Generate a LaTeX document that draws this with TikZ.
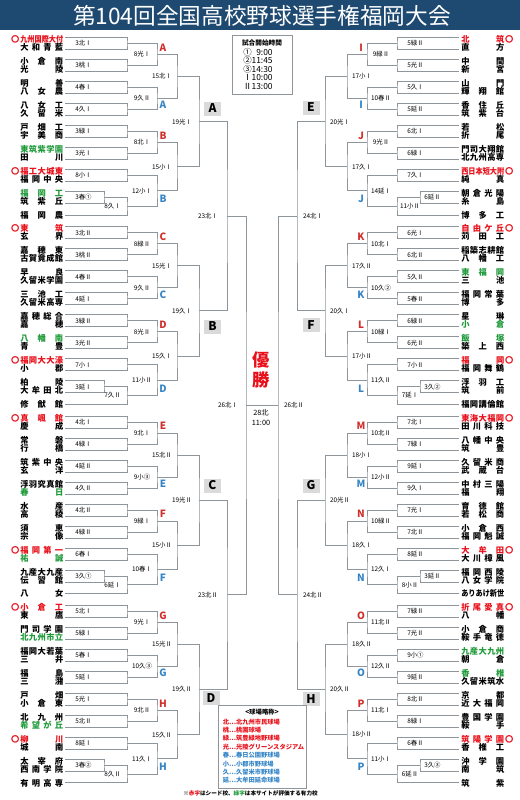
\documentclass[tikz,border=0pt]{standalone}
\usepackage{fontspec}
\setmainfont{Noto Sans CJK JP}
\usetikzlibrary{calc}
\definecolor{titlebg}{HTML}{1E4A72}
\definecolor{seedred}{HTML}{E8101A}
\definecolor{strong}{HTML}{1F9A3A}
\definecolor{letred}{HTML}{D0302B}
\definecolor{letblue}{HTML}{3585C6}
\definecolor{linegray}{HTML}{8E959B}
\definecolor{boxgray}{HTML}{DADADA}

\newdimen\namewd
\namewd=32.25pt

\ExplSyntaxOn
\box_new:N \l_nm_box
\NewDocumentCommand \nm { m }
  {
    \hbox_set:Nn \l_nm_box {#1}
    \dim_compare:nNnTF { \box_wd:N \l_nm_box } > { \namewd }
      {
        \box_scale:Nnn \l_nm_box
          { \fp_eval:n { \dim_to_fp:n { \namewd } / \dim_to_fp:n { \box_wd:N \l_nm_box } } } { 1 }
        \box_use:N \l_nm_box
      }
      { \hbox_to_wd:nn { \namewd } { \tl_map_inline:nn {#1} { ##1 \hfill } \unskip } }
  }
\ExplSyntaxOff

\newcommand\tn[1]{\nm{#1}}
\newcommand\tg[1]{\textcolor{strong}{\nm{#1}}}
\newcommand\seedl[1]{\textcolor{seedred}{\llap{〇\kern0.6pt}\nm{#1}}}
\newcommand\seedr[1]{\textcolor{seedred}{\nm{#1}\rlap{\kern0.6pt〇}}}

\tikzset{
  team/.style={inner sep=0pt, anchor=west, font=\fontsize{6.2}{6.2}\selectfont\bfseries, text height=5.46pt, text depth=0.74pt},
  bline/.style={draw=linegray, line width=0.7pt},
  mlabel/.style={inner sep=0pt, font=\fontsize{4.8}{4.8}\selectfont},
  redlet/.style={inner sep=0pt, text=letred, font=\fontsize{7.5}{7.5}\selectfont\bfseries},
  bluelet/.style={redlet, text=letblue},
  blockbox/.style={fill=boxgray, minimum width=12.75pt, minimum height=10.5pt, inner sep=0pt, font=\fontsize{9}{9}\selectfont\bfseries},
  infobox/.style={draw=linegray, line width=0.5pt},
  title/.style={text=white, inner sep=0pt, font=\fontsize{17}{17}\selectfont}
}

% first round, left side
\newcommand\lpair[5]{%
  \node[team] (#1u) at (20,#2-4) {#3};
  \node[team] (#1d) at (20,#2+4) {#4};
  \coordinate (#1ut) at (65,#2-6);
  \coordinate (#1dt) at (65,#2+6);
  \coordinate (#1) at (127,#2);
  \draw[bline] (#1ut) -| (#1) |- (#1dt);
  \node[mlabel, anchor=west] (#1lb) at (75,#2) {#5};
}
\newcommand\lshort[5]{%
  \node[team] (#1u) at (20,#2-4) {#3};
  \node[team] (#1d) at (20,#2+4) {#4};
  \coordinate (#1ut) at (65,#2-6);
  \coordinate (#1dt) at (65,#2+6);
  \coordinate (#1) at (104,#2);
  \draw[bline] (#1ut) -| (#1) |- (#1dt);
  \node[mlabel, anchor=west] (#1lb) at (75,#2) {#5};
}
\newcommand\lone[3]{%
  \node[team] (#1u) at (20,#2) {#3};
  \coordinate (#1) at (65,#2);
}
% first round, right side
\newcommand\rpair[5]{%
  \node[team] (#1u) at (461,#2-4) {#3};
  \node[team] (#1d) at (461,#2+4) {#4};
  \coordinate (#1ut) at (459,#2-6);
  \coordinate (#1dt) at (459,#2+6);
  \coordinate (#1) at (397,#2);
  \draw[bline] (#1ut) -| (#1) |- (#1dt);
  \node[mlabel, anchor=west] (#1lb) at (407,#2) {#5};
}
\newcommand\rshort[5]{%
  \node[team] (#1u) at (461,#2-4) {#3};
  \node[team] (#1d) at (461,#2+4) {#4};
  \coordinate (#1ut) at (459,#2-6);
  \coordinate (#1dt) at (459,#2+6);
  \coordinate (#1) at (420,#2);
  \draw[bline] (#1ut) -| (#1) |- (#1dt);
  \node[mlabel, anchor=west] (#1lb) at (424,#2) {#5};
}
\newcommand\rone[3]{%
  \node[team] (#1u) at (461,#2) {#3};
  \coordinate (#1) at (459,#2);
}
% later rounds: new match, upper, lower, column, label column, label
\newcommand\jn[6]{%
  \path ($(#2)!.5!(#3)$) coordinate (#1m);
  \coordinate (#1) at (#4 |- #1m);
  \draw[bline] (#2) -| (#1) |- (#3);
  \node[mlabel] (#1lb) at (#5 |- #1m) {#6};
}

\begin{document}
\begin{tikzpicture}[x=0.75pt, y=-0.75pt]
  \useasboundingbox (0,0) rectangle (520,800);
  \fill[titlebg] (0,0) rectangle (520,30);
  \node[title] (ttl) at (262,15.5) {第104回全国高校野球選手権福岡大会};

  % columns
  \coordinate (cl1) at (127,0); \coordinate (cl2) at (157,0); \coordinate (cl3) at (177,0);
  \coordinate (cl4) at (199,0); \coordinate (cl5) at (227,0); \coordinate (cl6) at (246,0);
  \coordinate (cr1) at (397,0); \coordinate (cr2) at (367,0); \coordinate (cr3) at (347,0);
  \coordinate (cr4) at (325,0); \coordinate (cr5) at (297,0); \coordinate (cr6) at (278,0);
  \coordinate (lb1) at (112.5,0); \coordinate (lb2) at (142,0); \coordinate (lb3) at (162,0);
  \coordinate (lb4) at (182,0); \coordinate (lb5) at (208,0); \coordinate (lb6) at (228,0);
  \coordinate (rb1) at (410,0); \coordinate (rb2) at (381,0); \coordinate (rb3) at (362,0);
  \coordinate (rb4) at (340,0); \coordinate (rb5) at (313,0); \coordinate (rb6) at (294,0);

  % A / B
  \lpair{a1}{43.5}{\seedl{九州国際大付}}{\tn{大和青藍}}{3北Ⅰ}
  \lpair{a2}{65.5}{\tn{小倉南}}{\tn{光陵}}{3桃Ⅰ}
  \lpair{a3}{87.5}{\tn{明善}}{\tn{八女農}}{4春Ⅰ}
  \lpair{a4}{109.5}{\tn{八女工}}{\tn{久留米}}{4久Ⅰ}
  \lpair{a5}{131.5}{\tn{戸畑工}}{\tn{宇美商}}{3緑Ⅰ}
  \lpair{a6}{153.5}{\tg{東筑紫学園}}{\tn{田川}}{3光Ⅰ}
  \lpair{a7}{175.5}{\seedl{福工大城東}}{\tn{福岡中央}}{8小Ⅰ}
  \lshort{a8}{197.5}{\tg{福岡工}}{\tn{筑紫丘}}{3春①}
  \lone{a9}{215}{\tn{福岡農}}
  \jn{a89}{a8}{a9}{cl1}{lb1}{8久Ⅰ}
  \jn{rA}{a1}{a2}{cl2}{lb2}{8光Ⅰ}
  \jn{bA}{a3}{a4}{cl2}{lb2}{9久Ⅱ}
  \jn{rB}{a5}{a6}{cl2}{lb2}{8北Ⅰ}
  \jn{bB}{a7}{a89}{cl2}{lb2}{12小Ⅰ}
  \jn{qA}{rA}{bA}{cl3}{lb3}{15北Ⅰ}
  \jn{qB}{rB}{bB}{cl3}{lb3}{15小Ⅰ}
  \jn{sA}{qA}{qB}{cl4}{lb4}{19光Ⅰ}

  % C / D
  \lpair{c1}{232.8}{\seedl{東筑}}{\tn{玄界}}{3北Ⅱ}
  \lpair{c2}{254.8}{\tn{嘉穂東}}{\tn{古賀竟成館}}{3桃Ⅱ}
  \lpair{c3}{276.8}{\tn{早良}}{\tn{久留米学園}}{4春Ⅱ}
  \lpair{c4}{298.8}{\tn{三池工}}{\tn{久留米高専}}{4延Ⅰ}
  \lpair{c5}{320.8}{\tn{嘉穂総合}}{\tn{嘉穂}}{3緑Ⅱ}
  \lpair{c6}{342.8}{\tg{八幡南}}{\tn{青豊}}{3光Ⅱ}
  \lpair{c7}{364.8}{\seedl{福岡大大濠}}{\tn{小郡}}{7小Ⅰ}
  \lshort{c8}{386.8}{\tn{柏陵}}{\tn{大牟田北}}{3延Ⅰ}
  \lone{c9}{404.3}{\tn{修猷館}}
  \jn{c89}{c8}{c9}{cl1}{lb1}{7久Ⅱ}
  \jn{rC}{c1}{c2}{cl2}{lb2}{8緑Ⅱ}
  \jn{bC}{c3}{c4}{cl2}{lb2}{9久Ⅱ}
  \jn{rD}{c5}{c6}{cl2}{lb2}{8光Ⅱ}
  \jn{bD}{c7}{c89}{cl2}{lb2}{11小Ⅱ}
  \jn{qC}{rC}{bC}{cl3}{lb3}{15光Ⅰ}
  \jn{qD}{rD}{bD}{cl3}{lb3}{15久Ⅰ}
  \jn{sC}{qC}{qD}{cl4}{lb4}{19久Ⅰ}

  % E / F
  \lpair{e1}{422.1}{\seedl{真颯館}}{\tn{慶成}}{4北Ⅰ}
  \lpair{e2}{444.1}{\tn{常磐}}{\tn{行橋}}{4緑Ⅰ}
  \lpair{e3}{466.1}{\tn{筑紫中央}}{\tn{玄洋}}{4延Ⅱ}
  \lpair{e4}{488.1}{\tn{浮羽究真館}}{\tg{春日}}{4久Ⅱ}
  \lpair{e5}{510.1}{\tn{水産}}{\tn{高稜}}{4北Ⅱ}
  \lpair{e6}{532.1}{\tn{須恵}}{\tn{宗像}}{4緑Ⅱ}
  \lpair{e7}{554.1}{\seedl{福岡第一}}{\tg{祐誠}}{6春Ⅰ}
  \lshort{e8}{576.1}{\tn{九産大九産}}{\tn{伝習館}}{3久①}
  \lone{e9}{593.6}{\tn{八女}}
  \jn{e89}{e8}{e9}{cl1}{lb1}{6延Ⅰ}
  \jn{rE}{e1}{e2}{cl2}{lb2}{9北Ⅰ}
  \jn{bE}{e3}{e4}{cl2}{lb2}{9小③}
  \jn{rF}{e5}{e6}{cl2}{lb2}{9緑Ⅰ}
  \jn{bF}{e7}{e89}{cl2}{lb2}{10春Ⅰ}
  \jn{qE}{rE}{bE}{cl3}{lb3}{15北Ⅱ}
  \jn{qF}{rF}{bF}{cl3}{lb3}{15小Ⅱ}
  \jn{sE}{qE}{qF}{cl4}{lb4}{19光Ⅱ}

  % G / H
  \lpair{g1}{611.4}{\seedl{小倉工}}{\tn{東鷹}}{5北Ⅰ}
  \lpair{g2}{633.4}{\tn{門司学園}}{\tg{北九州市立}}{5緑Ⅰ}
  \lpair{g3}{655.4}{\tn{福岡大若葉}}{\tn{三井}}{5春Ⅰ}
  \lpair{g4}{677.4}{\tn{福島}}{\tn{三潴}}{5延Ⅰ}
  \lpair{g5}{699.4}{\tn{戸畑}}{\tn{小倉東}}{5光Ⅰ}
  \lpair{g6}{721.4}{\tn{北九州}}{\tg{希望が丘}}{5北Ⅱ}
  \lpair{g7}{743.4}{\seedl{柳川}}{\tn{城南}}{8延Ⅰ}
  \lshort{g8}{765.4}{\tn{太宰府}}{\tn{西南学院}}{3春②}
  \lone{g9}{782.9}{\tn{有明高専}}
  \jn{g89}{g8}{g9}{cl1}{lb1}{8久Ⅱ}
  \jn{rG}{g1}{g2}{cl2}{lb2}{9光Ⅰ}
  \jn{bG}{g3}{g4}{cl2}{lb2}{10久③}
  \jn{rH}{g5}{g6}{cl2}{lb2}{9北Ⅱ}
  \jn{bH}{g7}{g89}{cl2}{lb2}{11久Ⅰ}
  \jn{qG}{rG}{bG}{cl3}{lb3}{15光Ⅱ}
  \jn{qH}{rH}{bH}{cl3}{lb3}{15久Ⅱ}
  \jn{sG}{qG}{qH}{cl4}{lb4}{19久Ⅱ}

  % I / J
  \rpair{i1}{43.5}{\seedr{北筑}}{\tn{直方}}{5緑Ⅱ}
  \rpair{i2}{65.5}{\tn{中間}}{\tn{新宮}}{5光Ⅱ}
  \rpair{i3}{87.5}{\tn{山門}}{\tn{輝翔館}}{5久Ⅰ}
  \rpair{i4}{109.5}{\tn{香住丘}}{\tn{筑紫台}}{5延Ⅱ}
  \rpair{i5}{131.5}{\tn{若松}}{\tn{折尾}}{6北Ⅰ}
  \rpair{i6}{153.5}{\tn{門司大翔館}}{\tn{北九州高専}}{6緑Ⅰ}
  \rpair{i7}{175.5}{\seedr{西日本短大附}}{\tn{純真}}{7久Ⅰ}
  \rshort{i8}{197.5}{\tn{朝倉光陽}}{\tn{糸島}}{6延Ⅱ}
  \rone{i9}{215}{\tn{博多工}}
  \jn{i89}{i8}{i9}{cr1}{rb1}{11小Ⅱ}
  \jn{rI}{i1}{i2}{cr2}{rb2}{9緑Ⅱ}
  \jn{bI}{i3}{i4}{cr2}{rb2}{10春Ⅱ}
  \jn{rJ}{i5}{i6}{cr2}{rb2}{9光Ⅱ}
  \jn{bJ}{i7}{i89}{cr2}{rb2}{14延Ⅰ}
  \jn{qI}{rI}{bI}{cr3}{rb3}{17小Ⅰ}
  \jn{qJ}{rJ}{bJ}{cr3}{rb3}{17久Ⅰ}
  \jn{sI}{qI}{qJ}{cr4}{rb4}{20光Ⅰ}

  % K / L
  \rpair{k1}{232.8}{\seedr{自由ケ丘}}{\tn{苅田工}}{6光Ⅰ}
  \rpair{k2}{254.8}{\tn{稲築志耕館}}{\tn{八幡工}}{6北Ⅱ}
  \rpair{k3}{276.8}{\tg{東福岡}}{\tn{三池}}{5久Ⅱ}
  \rpair{k4}{298.8}{\tn{福岡常葉}}{\tn{博多}}{5春Ⅱ}
  \rpair{k5}{320.8}{\tn{星琳}}{\tg{小倉}}{6緑Ⅱ}
  \rpair{k6}{342.8}{\tg{飯塚}}{\tn{築上西}}{6光Ⅱ}
  \rpair{k7}{364.8}{\seedr{福岡}}{\tn{福岡舞鶴}}{7小Ⅱ}
  \rshort{k8}{386.8}{\tn{浮羽工}}{\tn{筑前}}{3久②}
  \rone{k9}{404.3}{\tn{福岡講倫館}}
  \jn{k89}{k8}{k9}{cr1}{rb1}{7延Ⅰ}
  \jn{rK}{k1}{k2}{cr2}{rb2}{10北Ⅰ}
  \jn{bK}{k3}{k4}{cr2}{rb2}{10久②}
  \jn{rL}{k5}{k6}{cr2}{rb2}{10緑Ⅰ}
  \jn{bL}{k7}{k89}{cr2}{rb2}{11久Ⅱ}
  \jn{qK}{rK}{bK}{cr3}{rb3}{17久Ⅱ}
  \jn{qL}{rL}{bL}{cr3}{rb3}{17小Ⅱ}
  \jn{sK}{qK}{qL}{cr4}{rb4}{20久Ⅰ}

  % M / N
  \rpair{m1}{422.1}{\seedr{東海大福岡}}{\tn{田川科技}}{7北Ⅰ}
  \rpair{m2}{444.1}{\tn{八幡中央}}{\tn{筑豊}}{7緑Ⅰ}
  \rpair{m3}{466.1}{\tn{久留米商}}{\tn{武蔵台}}{9延Ⅰ}
  \rpair{m4}{488.1}{\tn{中村三陽}}{\tn{福翔}}{9久Ⅰ}
  \rpair{m5}{510.1}{\tn{育徳館}}{\tn{若松商}}{7光Ⅰ}
  \rpair{m6}{532.1}{\tn{小倉西}}{\tn{福岡魁誠}}{7北Ⅱ}
  \rpair{m7}{554.1}{\seedr{大牟田}}{\tn{大川樟風}}{8延Ⅱ}
  \rshort{m8}{576.1}{\tn{福岡西陵}}{\tn{八女学院}}{3延Ⅱ}
  \rone{m9}{593.6}{\tn{ありあけ新世}}
  \jn{m89}{m8}{m9}{cr1}{rb1}{8小Ⅱ}
  \jn{rM}{m1}{m2}{cr2}{rb2}{10北Ⅱ}
  \jn{bM}{m3}{m4}{cr2}{rb2}{12小Ⅱ}
  \jn{rN}{m5}{m6}{cr2}{rb2}{10緑Ⅱ}
  \jn{bN}{m7}{m89}{cr2}{rb2}{12久Ⅰ}
  \jn{qM}{rM}{bM}{cr3}{rb3}{18小Ⅰ}
  \jn{qN}{rN}{bN}{cr3}{rb3}{18久Ⅰ}
  \jn{sM}{qM}{qN}{cr4}{rb4}{20光Ⅱ}

  % O / P
  \rpair{o1}{611.4}{\seedr{折尾愛真}}{\tn{八幡}}{7緑Ⅱ}
  \rpair{o2}{633.4}{\tn{小倉商}}{\tn{鞍手竜徳}}{7光Ⅱ}
  \rpair{o3}{655.4}{\tg{九産大九州}}{\tn{朝倉}}{9小①}
  \rpair{o4}{677.4}{\tg{香椎}}{\tn{久留米筑水}}{9延Ⅱ}
  \rpair{o5}{699.4}{\tn{京都}}{\tn{近大福岡}}{8北Ⅱ}
  \rpair{o6}{721.4}{\tn{豊国学園}}{\tn{鞍手}}{8緑Ⅰ}
  \rpair{o7}{743.4}{\seedr{筑陽学園}}{\tn{香椎工}}{6春Ⅱ}
  \rshort{o8}{765.4}{\tn{沖学園}}{\tn{南筑}}{3久③}
  \rone{o9}{782.9}{\tn{筑紫}}
  \jn{o89}{o8}{o9}{cr1}{rb1}{6延Ⅱ}
  \jn{rO}{o1}{o2}{cr2}{rb2}{11北Ⅱ}
  \jn{bO}{o3}{o4}{cr2}{rb2}{12久Ⅱ}
  \jn{rP}{o5}{o6}{cr2}{rb2}{11北Ⅰ}
  \jn{bP}{o7}{o89}{cr2}{rb2}{11小Ⅰ}
  \jn{qO}{rO}{bO}{cr3}{rb3}{18久Ⅱ}
  \jn{qP}{rP}{bP}{cr3}{rb3}{18小Ⅱ}
  \jn{sO}{qO}{qP}{cr4}{rb4}{20久Ⅱ}

  % semifinals and final
  \jn{tL1}{sA}{sC}{cl5}{lb5}{23北Ⅰ}
  \jn{tL2}{sE}{sG}{cl5}{lb5}{23北Ⅱ}
  \jn{tR1}{sI}{sK}{cr5}{rb5}{24北Ⅰ}
  \jn{tR2}{sM}{sO}{cr5}{rb5}{24北Ⅱ}
  \jn{fL}{tL1}{tL2}{cl6}{lb6}{26北Ⅰ}
  \jn{fR}{tR1}{tR2}{cr6}{rb6}{26北Ⅱ}
  \draw[bline] (fL) -- (fR);
  \node[text=seedred, align=center, inner sep=0pt, font=\fontsize{13}{15}\selectfont\bfseries] (champ) at (261,370) {優\\勝};
  \node[align=center, inner sep=0pt, font=\fontsize{5.5}{7.5}\selectfont] (final) at (261,418) {28北\\11:00};

  % bracket letters
  \node[redlet] (lrA) at (163,47.5) {A};   \node[bluelet] (lbA) at (163,105) {A};
  \node[redlet] (lrB) at (163,135.5) {B};  \node[bluelet] (lbB) at (163,199.25) {B};
  \node[redlet] (lrC) at (163,236.8) {C};  \node[bluelet] (lbC) at (163,294.3) {C};
  \node[redlet] (lrD) at (163,324.8) {D};  \node[bluelet] (lbD) at (163,388.55) {D};
  \node[redlet] (lrE) at (163,426.1) {E};  \node[bluelet] (lbE) at (163,483.6) {E};
  \node[redlet] (lrF) at (163,514.1) {F};  \node[bluelet] (lbF) at (163,577.85) {F};
  \node[redlet] (lrG) at (163,615.4) {G};  \node[bluelet] (lbG) at (163,672.9) {G};
  \node[redlet] (lrH) at (163,703.4) {H};  \node[bluelet] (lbH) at (163,767.15) {H};
  \node[redlet] (lrI) at (361,47.5) {I};   \node[bluelet] (lbI) at (361,105) {I};
  \node[redlet] (lrJ) at (361,135.5) {J};  \node[bluelet] (lbJ) at (361,199.25) {J};
  \node[redlet] (lrK) at (361,236.8) {K};  \node[bluelet] (lbK) at (361,294.3) {K};
  \node[redlet] (lrL) at (361,324.8) {L};  \node[bluelet] (lbL) at (361,388.55) {L};
  \node[redlet] (lrM) at (361,426.1) {M};  \node[bluelet] (lbM) at (361,483.6) {M};
  \node[redlet] (lrN) at (361,514.1) {N};  \node[bluelet] (lbN) at (361,577.85) {N};
  \node[redlet] (lrO) at (361,615.4) {O};  \node[bluelet] (lbO) at (361,672.9) {O};
  \node[redlet] (lrP) at (361,703.4) {P};  \node[bluelet] (lbP) at (361,767.15) {P};

  % block boxes
  \node[blockbox] (boxA) at (212.5,108.5) {A};
  \node[blockbox] (boxB) at (212.5,326.5) {B};
  \node[blockbox] (boxC) at (212.5,485.5) {C};
  \node[blockbox] (boxD) at (211,698) {D};
  \node[blockbox] (boxE) at (311,107.5) {E};
  \node[blockbox] (boxF) at (311,325) {F};
  \node[blockbox] (boxG) at (311,485.5) {G};
  \node[blockbox] (boxH) at (311,699) {H};

  % start times
  \draw[infobox] (232,35) rectangle (292,94);
  \node[inner sep=0pt, font=\fontsize{5}{5}\selectfont\bfseries] (timehead) at (262,43) {試合開始時間};
  \node[inner sep=0pt, anchor=north west, align=left, font=\fontsize{6.3}{6.4}\selectfont] (times) at (243,48) {①\phantom{1}9:00\\②11:45\\③14:30\\Ⅰ10:00\\Ⅱ13:00};

  % legend
  \draw[infobox] (218,705) rectangle (306,788);
  \node[inner sep=0pt, font=\fontsize{4.8}{4.8}\selectfont\bfseries] (leghead) at (262,712) {<球場略称>};
  \node[inner sep=0pt, anchor=north west, align=left, font=\fontsize{4.7}{6.3}\selectfont\bfseries] (legend) at (222.5,718.5) {%
    \textcolor{seedred}{北…北九州市民球場}\\
    \textcolor{seedred}{桃…桃園球場}\\
    \textcolor{seedred}{緑…筑豊緑地野球場}\\
    \textcolor{seedred}{光…光陵グリーンスタジアム}\\
    \textcolor{letblue}{春…春日公園野球場}\\
    \textcolor{letblue}{小…小郡市野球場}\\
    \textcolor{letblue}{久…久留米市野球場}\\
    \textcolor{letblue}{延…大牟田延命球場}};
  \node[inner sep=0pt, font=\fontsize{4.2}{4.2}\selectfont\bfseries] (note) at (250.5,793.5) {※\textcolor{seedred}{赤字}はシード校、\textcolor{strong}{緑字}は本サイトが評価する有力校};
\end{tikzpicture}
\end{document}
